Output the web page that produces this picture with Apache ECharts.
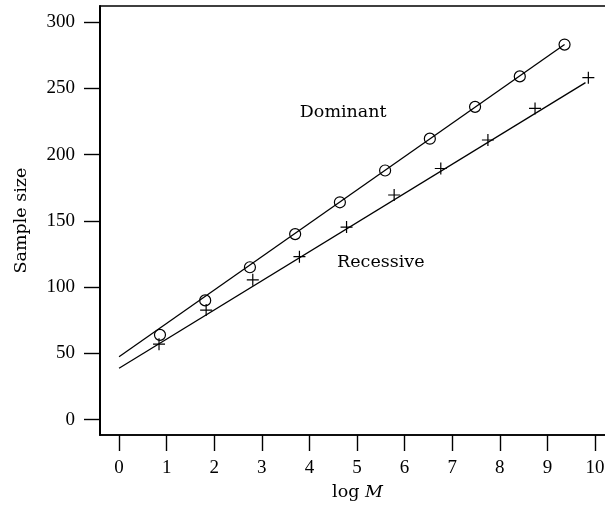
<!DOCTYPE html>
<html>
<head>
<meta charset="utf-8">
<script src="https://cdn.jsdelivr.net/npm/echarts@6/dist/echarts.min.js"></script>
<style>html,body{margin:0;padding:0;background:#fff}#c{width:605px;height:510px}</style>
</head>
<body>
<div id="c"></div>
<script>
const dominantX = [0.86, 1.81, 2.75, 3.70, 4.64, 5.59, 6.53, 7.48, 8.42, 9.36];
const dominantY = [64, 90, 115, 140, 164, 188, 212, 236, 259, 283];
const recessiveX = [0.84, 1.83, 2.81, 3.79, 4.78, 5.78, 6.76, 7.75, 8.74, 9.86];
const recessiveY = [57, 82.7, 105.5, 123, 145.3, 169.5, 189.5, 211, 234.8, 258];
const dominantFitX = [0, 9.36];
const dominantFitY = [47.5, 283];
const recessiveFitX = [0, 9.8];
const recessiveFitY = [38.8, 254.3];
const xTicks = [0, 1, 2, 3, 4, 5, 6, 7, 8, 9, 10];
const yTicks = [0, 50, 100, 150, 200, 250, 300];
const labelNames = ['Dominant', 'Recessive'];
const labelX = [4.71, 5.50];
const labelY = [232, 118.5];

const zip = (a, b) => a.map((v, i) => [v, b[i]]);
const digitFont = {fontFamily: '"Liberation Serif", serif', fontSize: 19, color: '#000'};
const wordFont = '"DejaVu Serif", serif';

const chart = echarts.init(document.getElementById('c'), null, {renderer: 'canvas'});
chart.setOption({
  animation: false,
  backgroundColor: '#fff',
  grid: {left: 100, top: 6, right: -10, bottom: 75, show: true, borderColor: '#000', borderWidth: 1.3, containLabel: false, outerBoundsMode: 'none'},
  xAxis: {
    type: 'value', min: -0.4, max: 10.42,
    splitLine: {show: false},
    axisLine: {show: true, onZero: false, lineStyle: {color: '#000', width: 1.5}},
    axisTick: {show: true, length: 16, lineStyle: {color: '#000', width: 1.4}, customValues: xTicks},
    axisLabel: {...digitFont, margin: 24, customValues: xTicks, formatter: v => String(v)},
    name: 'log {i|M}', nameLocation: 'middle', nameGap: 48,
    nameTextStyle: {fontFamily: wordFont, fontSize: 17.5, color: '#000', rich: {i: {fontFamily: wordFont, fontSize: 17.5, fontStyle: 'italic', color: '#000'}}}
  },
  yAxis: {
    type: 'value', min: -11.55, max: 312.1,
    splitLine: {show: false},
    axisLine: {show: true, onZero: false, lineStyle: {color: '#000', width: 2}},
    axisTick: {show: true, length: 16, lineStyle: {color: '#000', width: 1.4}, customValues: yTicks},
    axisLabel: {...digitFont, margin: 25, customValues: yTicks, formatter: v => String(v)},
    name: 'Sample size', nameLocation: 'middle', nameGap: 70,
    nameTextStyle: {fontFamily: wordFont, fontSize: 17.5, color: '#000'}
  },
  series: [
    {type: 'line', data: zip(dominantFitX, dominantFitY), showSymbol: false, lineStyle: {color: '#000', width: 1.3}, silent: true},
    {type: 'line', data: zip(recessiveFitX, recessiveFitY), showSymbol: false, lineStyle: {color: '#000', width: 1.3}, silent: true},
    {type: 'scatter', data: zip(dominantX, dominantY), symbol: 'circle', symbolSize: 11,
      itemStyle: {color: 'rgba(0,0,0,0)', borderColor: '#000', borderWidth: 1.2, opacity: 1}},
    {type: 'scatter', data: zip(recessiveX, recessiveY), symbol: 'path://M0,5.4H12V6.6H0Z M5.4,0H6.6V12H5.4Z', symbolSize: 12,
      itemStyle: {color: '#000', opacity: 1}},
    {type: 'scatter', data: labelNames.map((n, i) => ({name: n, value: [labelX[i], labelY[i]]})), symbolSize: 0,
      itemStyle: {opacity: 1},
      label: {show: true, position: 'inside', formatter: p => p.name, fontFamily: wordFont, fontSize: 17.5, color: '#000', opacity: 1}}
  ]
});
</script>
</body>
</html>
